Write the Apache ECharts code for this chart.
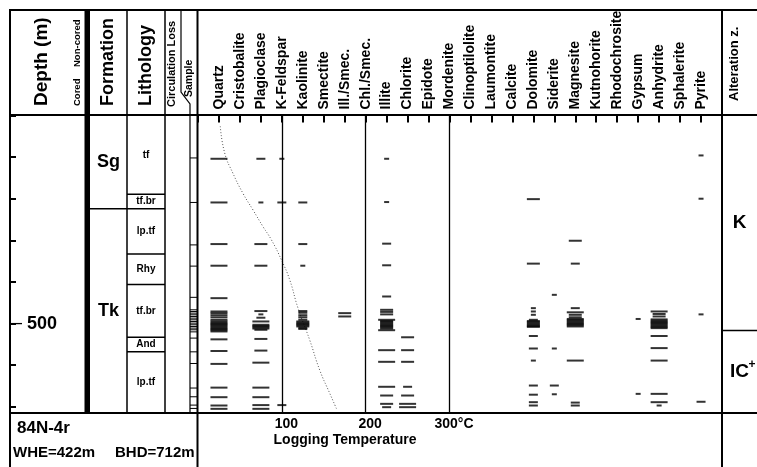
<!DOCTYPE html>
<html>
<head>
<meta charset="utf-8">
<script src="https://cdn.jsdelivr.net/npm/echarts@6/dist/echarts.min.js"></script>
<style>
html, body { margin: 0; padding: 0; background: #fff; }
#main { width: 757px; height: 467px; }
</style>
</head>
<body>
<div id="main"></div>
<script>
var minerals = ['Quartz', 'Cristobalite', 'Plagioclase', 'K-Feldspar', 'Kaolinite', 'Smectite',
    'Ill./Smec.', 'Chl./Smec.', 'Illite', 'Chlorite', 'Epidote', 'Mordenite', 'Clinoptilolite',
    'Laumontite', 'Calcite', 'Dolomite', 'Siderite', 'Magnesite', 'Kutnohorite', 'Rhodochrosite',
    'Gypsum', 'Anhydrite', 'Sphalerite', 'Pyrite'];

// [depth m, relative amount 1..4]
var quartz = [[104,4],[209,4],[309,4],[361,4],[439,4],[471,4],[475,4],[480,4],[485,4],[491,4],[495,4],[498,4],
    [501,4],[504,4],[507,4],[510,4],[513,4],[516,4],[519,4],[538,4],[566,4],[597,4],[654,4],[677,4],[697,4],[705,4]];
var plagioclase = [[104,2],[209,1],[309,3],[361,3],[470,3],[478,1],[486,2],[495,4],[503,4],[506,4],[509,4],
    [512,4],[515,3],[537,3],[565,3],[594,4],[654,4],[677,4],[696,4],[705,4]];
var kFeldspar = [[104,1],[209,2],[696,2]];
var kaolinite = [[209,2],[309,2],[361,1],[470,2],[474,2],[480,2],[485,2],[491,2],[495,3],[498,3],[501,3],
    [504,3],[507,3],[510,2],[513,2]];
var illSmec = [[475,3],[483,3]];
var illite = [[104,1],[208,1],[308,2],[360,2],[435,2],[467,3],[472,3],[478,3],[491,4],[494,3],[497,3],[500,3],
    [503,3],[506,3],[509,3],[512,3],[516,4],[564,4],[592,4],[652,4],[673,3],[693,3],[701,2]];
var chlorite = [[533,3],[564,3],[592,3],[652,2],[673,3],[693,4],[701,4]];
var dolomite = [[201,3],[356,3],[463,1],[471,1],[479,1],[491,2],[494,3],[497,3],[500,3],[503,3],[506,3],
    [508,3],[530,2],[560,2],[589,1],[649,2],[671,2],[689,2],[697,2]];
var siderite = [[431,1],[560,1],[649,2],[670,1]];
var magnesite = [[301,3],[356,2],[463,2],[473,4],[479,3],[485,3],[489,4],[492,4],[495,4],[498,4],[501,4],
    [504,4],[507,4],[589,4],[690,2],[697,2]];
var gypsum = [[489,1],[669,1]];
var anhydrite = [[471,4],[477,3],[483,3],[490,4],[493,4],[496,4],[499,4],[502,4],[505,4],[508,4],[511,4],
    [530,4],[559,4],[589,4],[669,4],[689,4],[697,1]];
var pyrite = [[96,1],[200,1],[478,1],[688,2]];

var occurrences = [['Quartz', quartz], ['Plagioclase', plagioclase], ['K-Feldspar', kFeldspar],
    ['Kaolinite', kaolinite], ['Ill./Smec.', illSmec], ['Illite', illite], ['Chlorite', chlorite],
    ['Dolomite', dolomite], ['Siderite', siderite], ['Magnesite', magnesite], ['Gypsum', gypsum],
    ['Anhydrite', anhydrite], ['Pyrite', pyrite]];

// [label, top m, bottom m]
var formations = [['Sg', 0, 224], ['Tk', 224, 715]];
var lithology = [['tf', 0, 189], ['tf.br', 189, 224], ['lp.tf', 224, 333], ['Rhy', 333, 406],
    ['tf.br', 406, 533], ['And', 533, 568], ['lp.tf', 568, 715]];
var alteration = [['K', '', 0, 517], ['IC', '+', 517, 715]];
var nonCored = [[0, 715]];
var sampleDepths = [102, 209, 311, 362, 437, 467, 471, 475, 479, 483, 487, 491, 495, 499, 503, 507,
    511, 515, 520, 535, 568, 596, 655, 676, 696, 704];

// logging temperature [deg C, depth m]
var tempLog = [[26.6,26],[31.8,90],[41.7,139],[53.6,187],[65.6,227],[77.5,267],[87.6,299],[99.5,347],
    [109.4,395],[119.3,463],[133.3,540],[145.2,612],[157.2,668],[165.9,708]];
var tempLines = [100, 200, 300];

var depthMax = 715;

// ---- chart ----
var FONT = '"Liberation Sans", Arial, sans-serif';
var dashW = {1: 5, 2: 9, 3: 13, 4: 17};
var chart = echarts.init(document.getElementById('main'));

var TOP = 115.5, BOTTOM = 54;
var cols = [
    {left: 10, width: 74.5},   // 0 depth
    {left: 84.5, width: 5.5},  // 1 cored / non-cored
    {left: 90, width: 37},     // 2 formation
    {left: 127, width: 38},    // 3 lithology
    {left: 190, width: 7.5},   // 4 sample
    {left: 198, width: 524},   // 5 minerals
    {left: 722, width: 40}     // 6 alteration
];
var grids = cols.map(function (c) {
    return {left: c.left, width: c.width, top: TOP, bottom: BOTTOM, show: false, containLabel: false};
});

function hiddenX(g) {
    return {type: 'value', gridIndex: g, min: 0, max: 1, show: false};
}
function depthY(g) {
    return {type: 'value', gridIndex: g, min: 0, max: depthMax, inverse: true, show: false};
}

var xAxes = [hiddenX(0), hiddenX(1), hiddenX(2), hiddenX(3), hiddenX(4),
    {
        type: 'value', gridIndex: 5, position: 'top', min: 0, max: 25, interval: 1,
        axisLine: {show: false}, splitLine: {show: false},
        axisTick: {show: true, inside: true, length: 7, lineStyle: {color: '#000', width: 2}},
        axisLabel: {
            rotate: 90, margin: 6, fontFamily: FONT, fontSize: 14, fontWeight: 'bold', color: '#000',
            formatter: function (v) { return minerals[v - 1] || ''; }
        }
    },
    {
        type: 'value', gridIndex: 5, position: 'bottom', min: 0, max: 625, interval: 100,
        axisLine: {show: false}, axisTick: {show: false}, splitLine: {show: false},
        axisLabel: {
            margin: 4, fontFamily: FONT, fontSize: 14, fontWeight: 'bold', color: '#000', padding: [0, 0, 0, 9],
            formatter: function (v) {
                if (v === 100 || v === 200) return String(v);
                if (v === 300) return '300°C';
                return '';
            }
        }
    },
    hiddenX(6)
];

var yAxes = [
    {
        type: 'value', gridIndex: 0, min: 0, max: depthMax, interval: 100, inverse: true, position: 'left',
        axisLine: {show: false}, splitLine: {show: false},
        axisTick: {show: true, inside: true, length: 6, lineStyle: {color: '#000', width: 2}},
        axisLabel: {
            inside: true, margin: 0, color: '#000',
            formatter: function (v) { return v === 500 ? '{d|—}{n| 500}' : ''; },
            rich: {
                d: {fontFamily: FONT, fontSize: 12, fontWeight: 'bold', color: '#000'},
                n: {fontFamily: FONT, fontSize: 18, fontWeight: 'bold', color: '#000'}
            }
        }
    },
    depthY(1), depthY(2), depthY(3), depthY(4), depthY(5), depthY(6)
];

// interval columns (formation / lithology / alteration)
function intervalRenderer(rows, fontSize, sup) {
    return function (params, api) {
        var row = rows[params.dataIndex];
        var p0 = api.coord([0, api.value(0)]);
        var p1 = api.coord([1, api.value(1)]);
        var cx = (p0[0] + p1[0]) / 2, cy = (p0[1] + p1[1]) / 2;
        var kids = [];
        if (api.value(1) < depthMax) {
            kids.push({type: 'line', shape: {x1: p0[0], y1: p1[1], x2: p1[0], y2: p1[1]},
                style: {stroke: '#000', lineWidth: 1.5}});
        }
        kids.push({type: 'text', style: {text: row[0], x: cx, y: cy, align: 'center', verticalAlign: 'middle',
            font: 'bold ' + fontSize + 'px ' + FONT, fill: '#000'}});
        if (sup && row[1]) {
            kids.push({type: 'text', style: {text: row[1], x: cx + 9, y: cy - 7, align: 'left',
                verticalAlign: 'middle', font: 'bold 12px ' + FONT, fill: '#000'}});
        }
        return {type: 'group', children: kids};
    };
}

var dashData = [];
occurrences.forEach(function (o) {
    var idx = minerals.indexOf(o[0]) + 1;
    o[1].forEach(function (r) { dashData.push([idx, r[0], r[1]]); });
});

var series = [
    {
        type: 'custom', xAxisIndex: 1, yAxisIndex: 1, silent: true,
        data: nonCored,
        renderItem: function (params, api) {
            var p0 = api.coord([0, api.value(0)]), p1 = api.coord([1, api.value(1)]);
            return {type: 'rect', shape: {x: p0[0], y: p0[1], width: p1[0] - p0[0], height: p1[1] - p0[1]},
                style: {fill: '#000'}};
        }
    },
    {
        type: 'custom', xAxisIndex: 2, yAxisIndex: 2, silent: true,
        data: formations.map(function (f) { return [f[1], f[2]]; }),
        renderItem: intervalRenderer(formations, 18)
    },
    {
        type: 'custom', xAxisIndex: 3, yAxisIndex: 3, silent: true,
        data: lithology.map(function (f) { return [f[1], f[2]]; }),
        renderItem: intervalRenderer(lithology, 10)
    },
    {
        type: 'custom', xAxisIndex: 4, yAxisIndex: 4, silent: true,
        data: sampleDepths.map(function (d) { return [d, d]; }),
        renderItem: function (params, api) {
            var p0 = api.coord([0, api.value(0)]), p1 = api.coord([1, api.value(0)]);
            return {type: 'line', shape: {x1: p0[0], y1: p0[1], x2: p1[0], y2: p1[1]},
                style: {stroke: '#000', lineWidth: 1}};
        }
    },
    {
        type: 'custom', xAxisIndex: 7, yAxisIndex: 6, silent: true,
        data: alteration.map(function (f) { return [f[2], f[3]]; }),
        renderItem: intervalRenderer(alteration, 19, true)
    },
    {
        type: 'line', xAxisIndex: 6, yAxisIndex: 5, silent: true, z: 1,
        data: tempLog, symbol: 'none', smooth: true,
        lineStyle: {color: '#555', width: 1, type: [1, 2]},
        markLine: {
            silent: true, symbol: ['none', 'none'], label: {show: false},
            lineStyle: {color: '#000', type: 'solid', width: 1.3},
            data: tempLines.map(function (t) { return {xAxis: t}; })
        }
    },
    {
        type: 'scatter', xAxisIndex: 5, yAxisIndex: 5, silent: true, z: 3,
        data: dashData, symbol: 'rect',
        symbolSize: function (v) { return [dashW[v[2]], 2]; },
        itemStyle: {color: '#000'}
    }
];

// table frame and header / footer text
function hline(x1, x2, y, w) {
    return {type: 'line', shape: {x1: x1, y1: y, x2: x2, y2: y}, style: {stroke: '#000', lineWidth: w}, z: 10};
}
function vline(x, y1, y2, w) {
    return {type: 'line', shape: {x1: x, y1: y1, x2: x, y2: y2}, style: {stroke: '#000', lineWidth: w}, z: 10};
}
function vtext(txt, x, y, size) {
    return {type: 'text', x: x, y: y, rotation: Math.PI / 2, z: 10,
        style: {text: txt, align: 'left', verticalAlign: 'middle', font: 'bold ' + size + 'px ' + FONT, fill: '#000'}};
}
function htext(txt, x, y, size, align) {
    return {type: 'text', x: x, y: y, z: 10,
        style: {text: txt, align: align || 'left', verticalAlign: 'middle', font: 'bold ' + size + 'px ' + FONT, fill: '#000'}};
}

var graphic = [
    hline(10, 757, 10, 2),
    hline(10, 757, 115, 2),
    hline(10, 757, 413, 2),
    vline(10, 9, 467, 2),
    vline(127, 10, 413, 1.5),
    vline(165, 10, 413, 1.5),
    vline(197.5, 10, 467, 2),
    vline(722, 10, 467, 2),
    {type: 'polyline', z: 10, shape: {points: [[181, 10], [181, 92], [190, 104], [190, 413]]},
        style: {stroke: '#000', lineWidth: 1.2, fill: null}},
    {type: 'rect', z: 10, shape: {x: 84.5, y: 10, width: 5.5, height: 105}, style: {fill: '#000'}},
    vtext('Depth (m)', 42, 106, 19),
    vtext('Cored', 77, 106, 9.5),
    vtext('Non-cored', 77, 67, 9.5),
    vtext('Formation', 108.5, 106, 18),
    vtext('Lithology', 146, 106, 18),
    vtext('Circulation Loss', 172, 107, 11),
    vtext('Sample', 189.5, 97, 10.5),
    vtext('Alteration z.', 734, 101, 13),
    htext('84N-4r', 17, 428, 17),
    htext('WHE=422m', 13, 453, 15),
    htext('BHD=712m', 115, 453, 15),
    htext('Logging Temperature', 345, 440, 14, 'center')
];

chart.setOption({
    animation: false,
    backgroundColor: '#fff',
    textStyle: {fontFamily: FONT},
    grid: grids,
    xAxis: xAxes,
    yAxis: yAxes,
    series: series,
    graphic: graphic
});
</script>
</body>
</html>
